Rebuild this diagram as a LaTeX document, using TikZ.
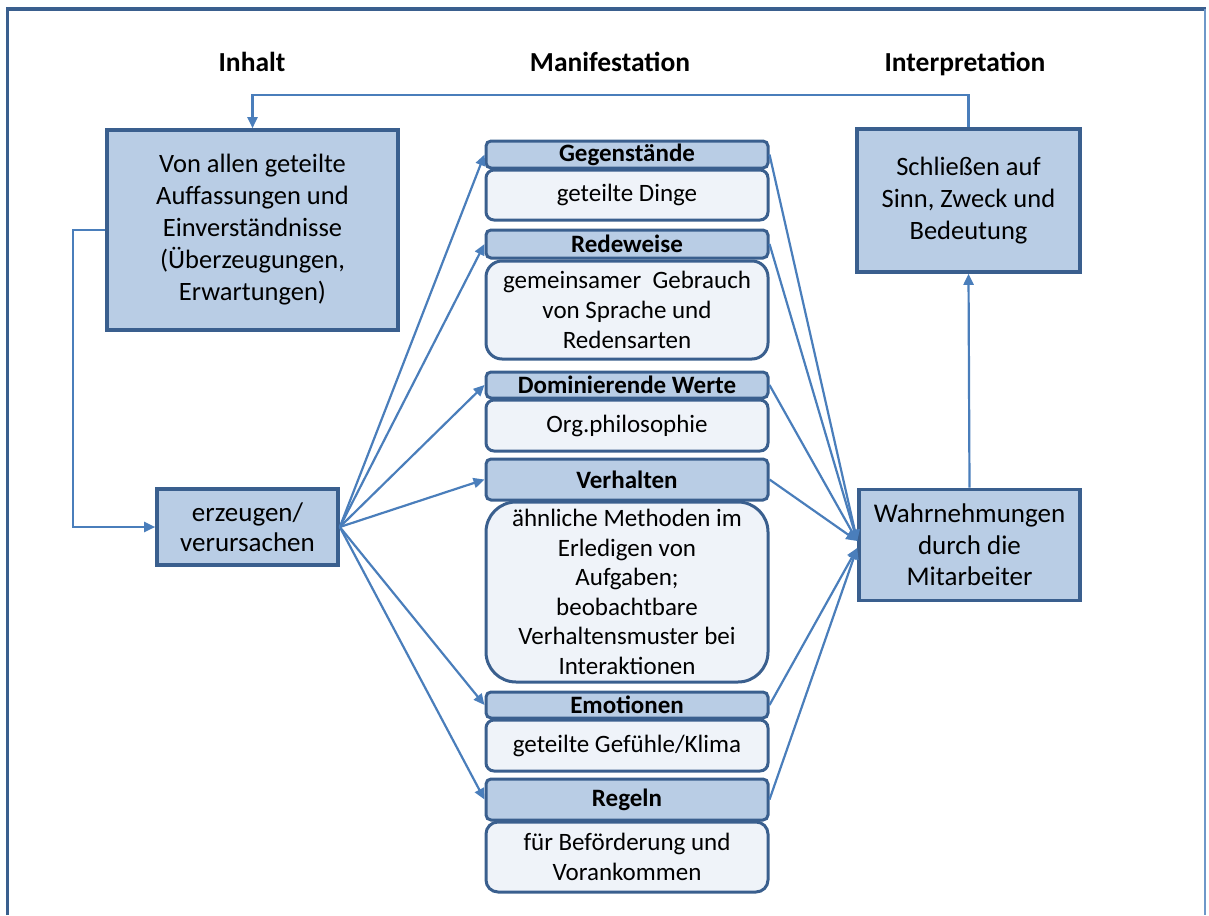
\documentclass[tikz,border=0pt]{standalone}
\usepackage{fontspec}
\setmainfont{Carlito}
\usetikzlibrary{arrows.meta,calc}
\definecolor{bfill}{HTML}{B9CDE5}
\definecolor{bdraw}{HTML}{3A5F8E}
\definecolor{lfill}{HTML}{EFF3F9}
\definecolor{arr}{HTML}{4A7EBB}
\begin{document}
\begin{tikzpicture}[x=1pt,y=-1pt,
  sq/.style={draw=bdraw, line width=3.6pt, fill=bfill, align=center, inner sep=0pt, font=\fontsize{26.5}{32}\selectfont},
  hd/.style={draw=bdraw, line width=3pt, fill=bfill, rounded corners=5pt, inner sep=0pt, minimum width=282pt, font=\bfseries\fontsize{25}{26}\selectfont},
  bd/.style={draw=bdraw, line width=3pt, fill=lfill, inner sep=0pt, minimum width=282pt, align=center, rounded corners=#1, font=\fontsize{25}{30}\selectfont},
  bd/.default=8pt,
  ar/.style={draw=arr, line width=2.2pt, -{Triangle[length=11pt,width=10pt]}},
  ttl/.style={font=\bfseries\fontsize{27.5}{30}\selectfont, anchor=base}
]
\useasboundingbox (0,0) rectangle (1209,915);
\draw[bdraw, line width=3.8pt] (7.5,915) -- (7.5,9) -- (1206,9);
\draw[arr!80, line width=1.5pt] (1205,9) -- (1205,915);

\node[ttl] (t1) at (252,72) {Inhalt};
\node[ttl] (t2) at (610,72) {Manifestation};
\node[ttl] (t3) at (965,72) {Interpretation};

\node[sq, minimum width=291pt, minimum height=200pt] (inh) at (252.5,230) {Von allen geteilte\\Auffassungen und\\Einverständnisse\\(Überzeugungen,\\Erwartungen)};
\node[sq, minimum width=181pt, minimum height=76pt, font=\fontsize{27}{30}\selectfont] (erz) at (247.5,527) {erzeugen/\\verursachen};
\node[sq, minimum width=223pt, minimum height=143pt] (int) at (968.5,200.5) {Schließen auf\\Sinn, Zweck und\\Bedeutung};
\node[sq, minimum width=221pt, minimum height=111pt, font=\fontsize{27}{31.5}\selectfont] (wah) at (969.5,545) {Wahrnehmungen\\durch die\\Mitarbeiter};

\node[hd, minimum height=27pt] (h1) at (627,154.5) {Gegenstände};
\node[bd, minimum height=50pt] (b1) at (627,195) {geteilte Dinge};
\node[hd, minimum height=28pt] (h2) at (627,244) {Redeweise};
\node[bd=16pt, minimum height=98pt] (b2) at (627,310) {gemeinsamer\ \ Gebrauch\\von Sprache und\\Redensarten};
\node[hd, minimum height=26pt] (h3) at (627,385) {Dominierende Werte};
\node[bd, minimum height=51pt] (b3) at (627,425.5) {Org.philosophie};
\node[hd, minimum height=41pt] (h4) at (627,479.5) {Verhalten};
\node[bd=30pt, minimum height=180pt, font=\fontsize{25}{29.5}\selectfont] (b4) at (627,592) {ähnliche Methoden im\\Erledigen von\\Aufgaben;\\beobachtbare\\Verhaltensmuster bei\\Interaktionen};
\node[hd, minimum height=26pt] (h5) at (627,705) {Emotionen};
\node[bd, minimum height=51pt] (b5) at (627,745.5) {geteilte Gefühle/Klima};
\node[hd, minimum height=41pt] (h6) at (627,799.5) {Regeln};
\node[bd=12pt, minimum height=70pt] (b6) at (627,857) {für Beförderung und\\Vorankommen};

\coordinate (wu) at ($(wah.west)+(0,-4)$);
\coordinate (wl) at ($(wah.west)+(0,3)$);

\draw[ar] (int.north) -- ++(0,-32) -| (inh.north);
\draw[ar] (inh.west) -- ++(-32,0) |- (erz.west);
\draw[ar] (wah.north) -- (int.south);
\foreach \h in {h1,h2,h3,h4,h5,h6} {\draw[ar] (erz.east) -- (\h.west);}
\foreach \h in {h1,h2,h3,h4} {\draw[ar] (\h.east) -- (wu);}
\foreach \h in {h5,h6} {\draw[ar] (\h.east) -- (wl);}
\end{tikzpicture}
\end{document}
